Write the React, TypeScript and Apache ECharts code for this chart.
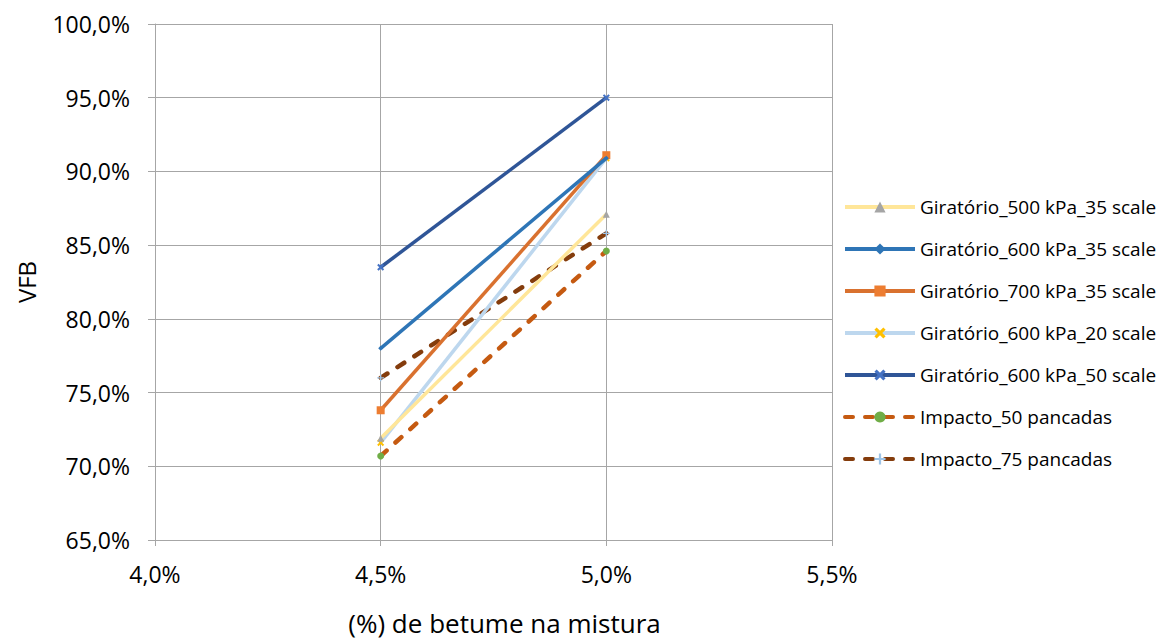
import React, { useEffect, useRef } from "react";
import * as echarts from "echarts";

const xValues = [4.5, 5.0];
const seriesNames = [
  "Giratório_500 kPa_35 scale",
  "Giratório_600 kPa_35 scale",
  "Giratório_700 kPa_35 scale",
  "Giratório_600 kPa_20 scale",
  "Giratório_600 kPa_50 scale",
  "Impacto_50 pancadas",
  "Impacto_75 pancadas",
];
const g500_35 = [71.9, 87.1];
const g600_35 = [78.0, 90.9];
const g700_35 = [73.8, 91.1];
const g600_20 = [71.6, 90.9];
const g600_50 = [83.5, 95.0];
const imp50 = [70.7, 84.6];
const imp75 = [76.0, 85.8];
const allValues = [g500_35, g600_35, g700_35, g600_20, g600_50, imp50, imp75];

const lineColors = ["#FFE699", "#2E75B6", "#D9712F", "#BDD7EE", "#2F5597", "#C55A11", "#843C0C"];
const markerColors = ["#A5A5A5", "#2E75B6", "#ED7D31", "#FFC000", "#4472C4", "#70AD47", "#9DC3E6"];
const X_PATH = "path://M2,0 L5,3 L8,0 L10,2 L7,5 L10,8 L8,10 L5,7 L2,10 L0,8 L3,5 L0,2 Z";
const PLUS_PATH = "path://M4,0 H6 V4 H10 V6 H6 V10 H4 V6 H0 V4 H4 Z";
const symbols = ["triangle", "diamond", "rect", X_PATH, X_PATH, "circle", PLUS_PATH];
const symbolSizes = [7, 5, 8, 7, 7, 7, 7];
const dashed = [false, false, false, false, false, true, true];

const FONT = "Open Sans";
const fmt = (v: number) => v.toFixed(1).replace(".", ",") + "%";

export default function App() {
  const ref = useRef<HTMLDivElement>(null);
  useEffect(() => {
    const chart = echarts.init(ref.current!, null, { renderer: "svg" });
    const series = seriesNames.map((name, i) => ({
      name,
      type: "line",
      data: xValues.map((x, j) => [x, allValues[i][j]]),
      symbol: symbols[i],
      symbolSize: symbolSizes[i],
      itemStyle: { color: markerColors[i] },
      lineStyle: {
        color: lineColors[i],
        width: dashed[i] ? 4.5 : 3.5,
        type: dashed[i] ? [8, 12] : "solid",
        cap: dashed[i] ? "round" : "butt",
      },
      z: 10 - i,
    }));
    chart.setOption({
      animation: false,
      backgroundColor: "#ffffff",
      grid: { left: 155, right: 328, top: 24, bottom: 102, containLabel: false },
      xAxis: {
        type: "value",
        min: 4.0,
        max: 5.5,
        interval: 0.5,
        name: "(%) de betume na mistura",
        nameLocation: "middle",
        nameGap: 70,
        nameTextStyle: { fontFamily: FONT, fontSize: 26, color: "#000", padding: [0, 0, 0, 22] },
        axisLine: { show: true, lineStyle: { color: "#A6A6A6", width: 1 } },
        axisTick: { show: true, inside: false, length: 6, lineStyle: { color: "#A6A6A6" } },
        axisLabel: { formatter: fmt, fontFamily: FONT, fontSize: 23, color: "#000", margin: 22 },
        splitLine: { show: true, lineStyle: { color: "#A6A6A6", width: 1 } },
      },
      yAxis: {
        type: "value",
        min: 65,
        max: 100,
        interval: 5,
        name: "VFB",
        nameLocation: "middle",
        nameRotate: 90,
        nameGap: 117,
        nameTextStyle: { fontFamily: FONT, fontSize: 24, color: "#000" },
        axisLine: { show: true, lineStyle: { color: "#A6A6A6", width: 1 } },
        axisTick: { show: true, inside: false, length: 7, lineStyle: { color: "#A6A6A6" } },
        axisLabel: { formatter: fmt, fontFamily: FONT, fontSize: 23, color: "#000", margin: 25 },
        splitLine: { show: true, lineStyle: { color: "#A6A6A6", width: 1 } },
      },
      legend: {
        orient: "vertical",
        left: 843,
        top: 197,
        padding: 0,
        itemWidth: 70,
        itemHeight: 14,
        itemGap: 22,
        lineStyle: { width: 4 },
        textStyle: { fontFamily: FONT, fontSize: 19, lineHeight: 20, color: "#000" },
        data: seriesNames,
      },
      series,
    });
    return () => chart.dispose();
  }, []);
  return (
    <div
      ref={ref}
      style={{ position: "fixed", left: 0, top: 0, width: 1160, height: 642, background: "#fff" }}
    />
  );
}
